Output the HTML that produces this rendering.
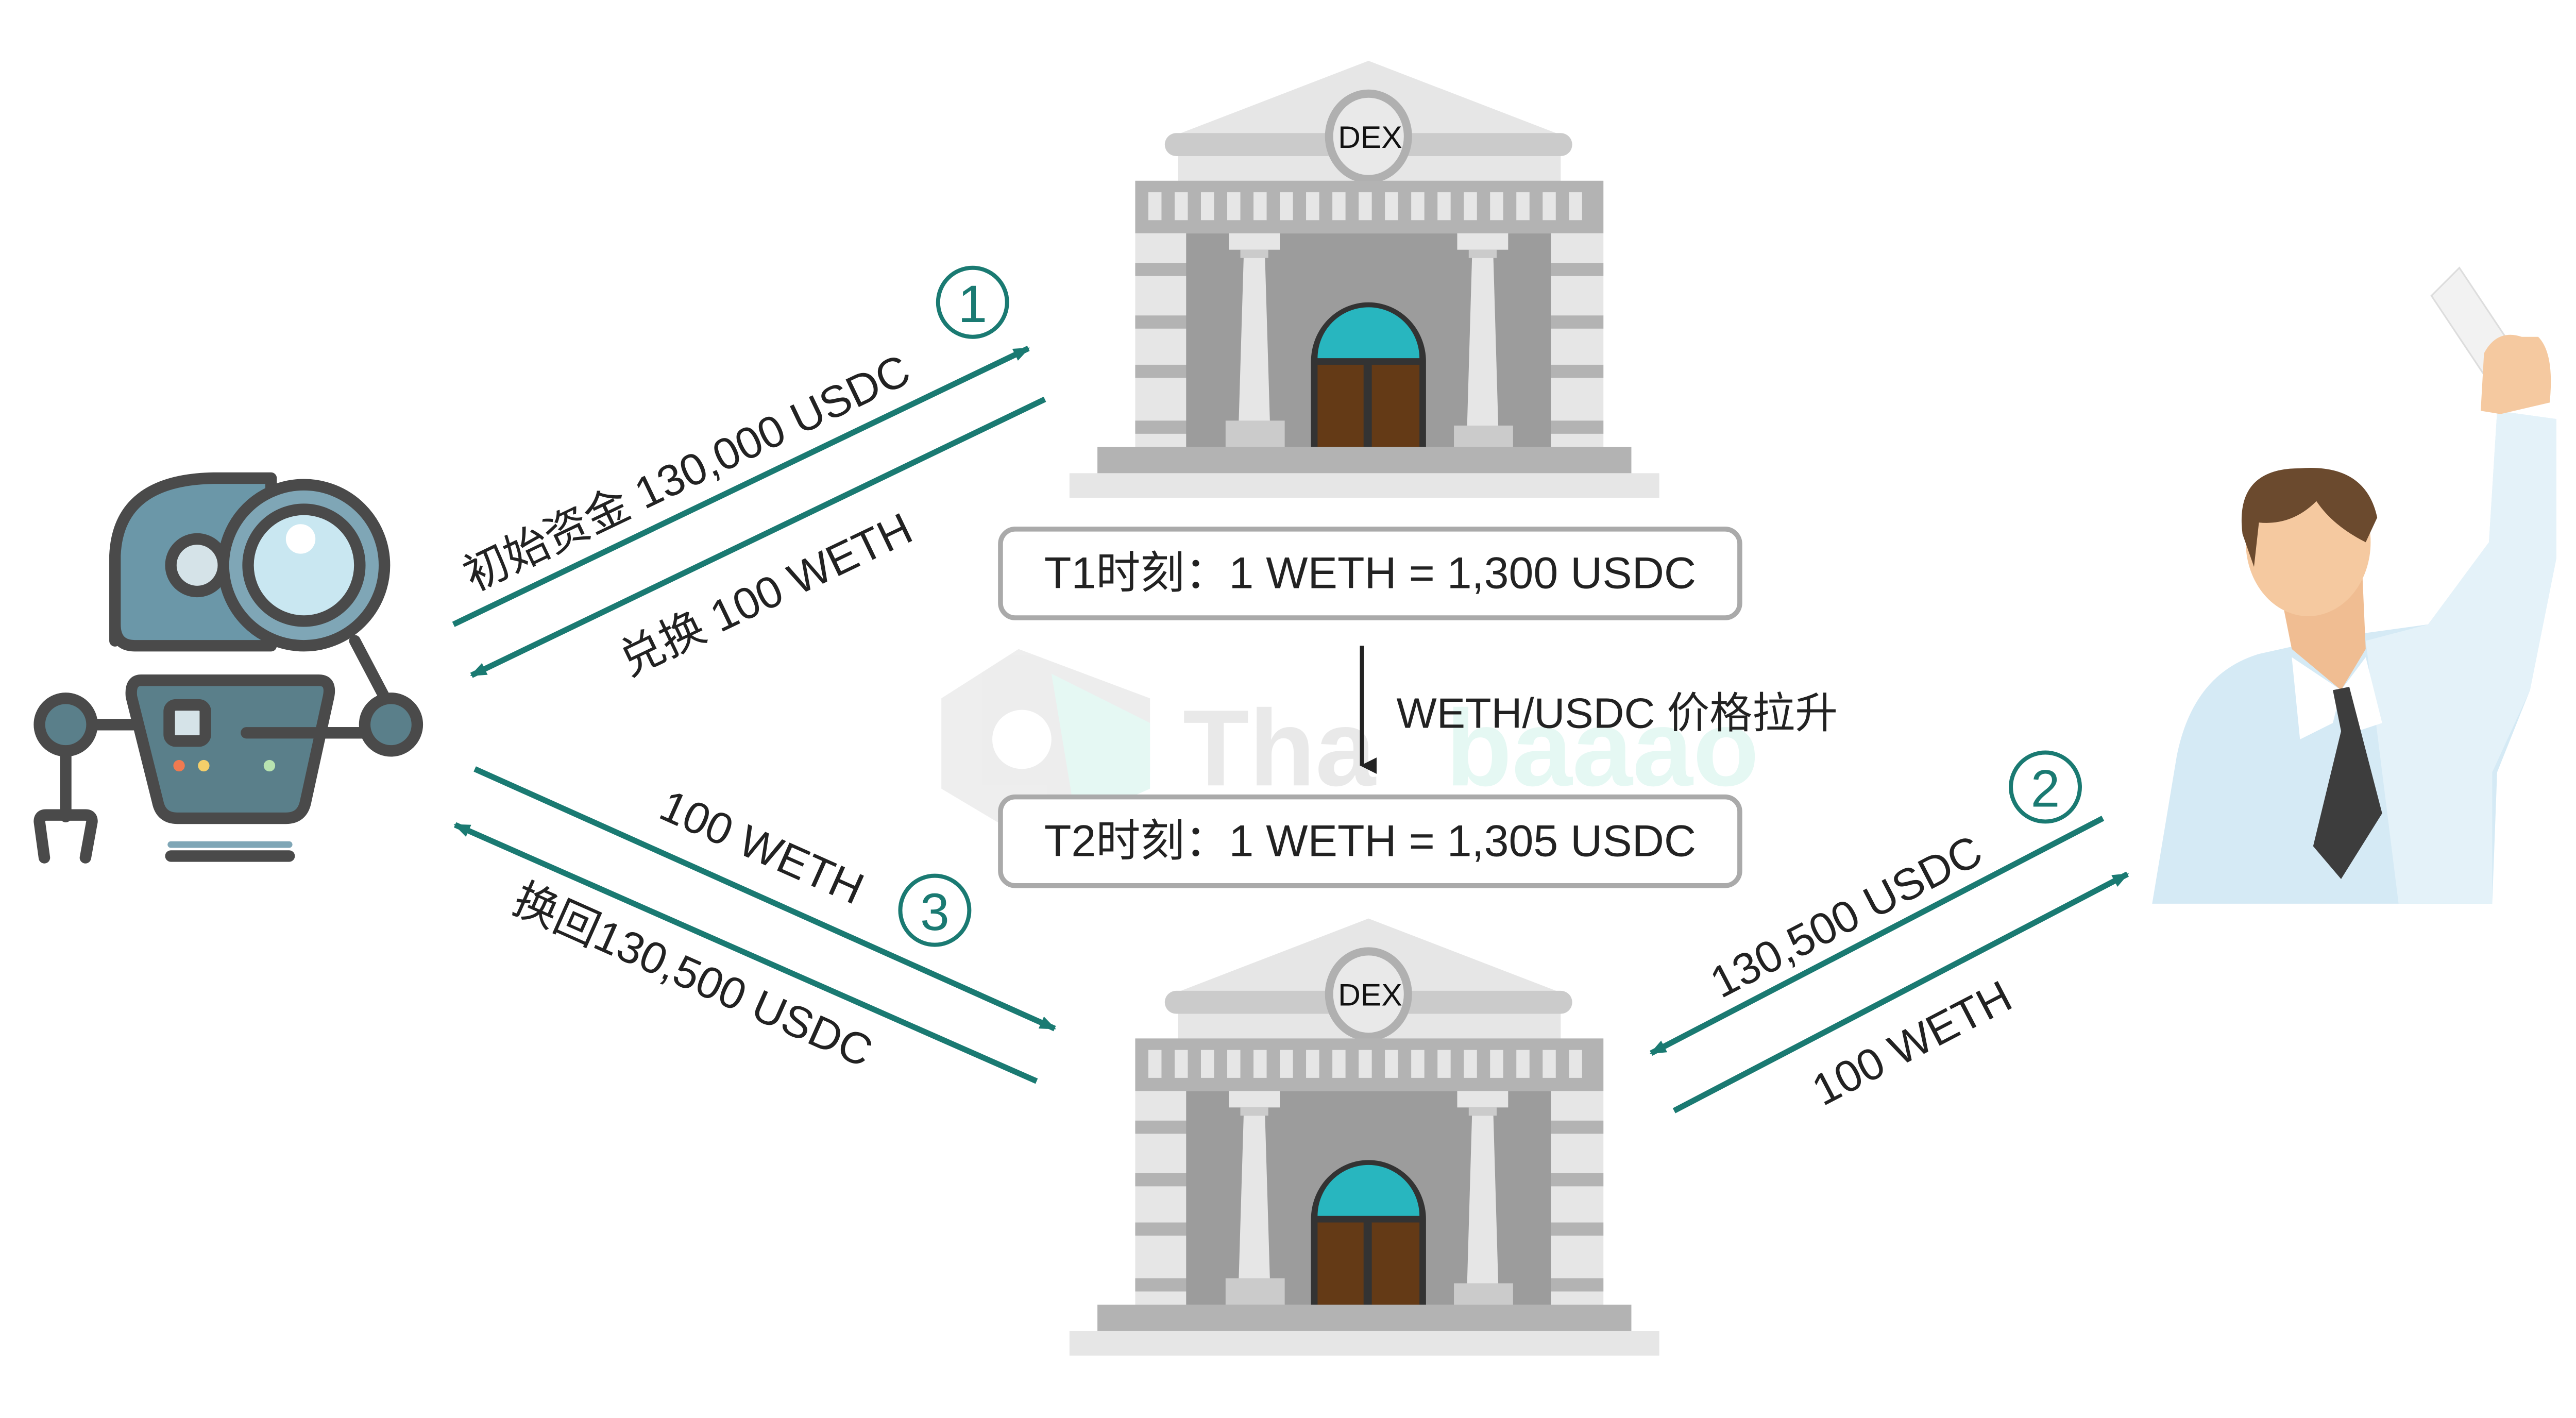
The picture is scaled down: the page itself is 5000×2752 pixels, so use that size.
<!DOCTYPE html>
<html><head><meta charset="utf-8"><style>
html,body{margin:0;padding:0;background:#fff;}
svg{display:block;}
text{font-family:"Liberation Sans","Noto Sans CJK SC",sans-serif;}
</style></head><body>
<svg width="5000" height="2752" viewBox="0 0 1568 863" preserveAspectRatio="none" xmlns="http://www.w3.org/2000/svg">
<defs>
<marker id="ah" markerWidth="10" markerHeight="8" refX="9" refY="4" orient="auto" markerUnits="userSpaceOnUse">
<path d="M0,0 L10,4 L0,8 Z" fill="#1a7a72"/></marker>
<marker id="ahk" markerWidth="10" markerHeight="10" refX="5" refY="9" orient="auto" markerUnits="userSpaceOnUse">
<path d="M0,0 L5,10 L10,0 Z" fill="#222"/></marker>
<g id="bank">
<polygon points="833,37 955,84 711,84" fill="#e6e6e6"/>
<rect x="709" y="81" width="248" height="14" rx="7" fill="#cbcbcb"/>
<rect x="717" y="95" width="233" height="16" fill="#e6e6e6"/>
<ellipse cx="833" cy="83" rx="24" ry="26" fill="#e9e9e9" stroke="#b0b0b0" stroke-width="5"/>
<text x="834" y="90" font-size="19" text-anchor="middle" fill="#111">DEX</text>
<rect x="691" y="110" width="285" height="32" fill="#b3b3b3"/>
<g fill="#e6e6e6">
<rect x="699" y="117" width="8" height="17"/><rect x="715" y="117" width="8" height="17"/><rect x="731" y="117" width="8" height="17"/><rect x="747" y="117" width="8" height="17"/><rect x="763" y="117" width="8" height="17"/><rect x="779" y="117" width="8" height="17"/><rect x="795" y="117" width="8" height="17"/><rect x="811" y="117" width="8" height="17"/><rect x="827" y="117" width="8" height="17"/><rect x="843" y="117" width="8" height="17"/><rect x="859" y="117" width="8" height="17"/><rect x="875" y="117" width="8" height="17"/><rect x="891" y="117" width="8" height="17"/><rect x="907" y="117" width="8" height="17"/><rect x="923" y="117" width="8" height="17"/><rect x="939" y="117" width="8" height="17"/><rect x="955" y="117" width="8" height="17"/></g>
<rect x="691" y="142" width="285" height="130" fill="#e6e6e6"/>
<g fill="#b3b3b3">
<rect x="691" y="160" width="285" height="8"/><rect x="691" y="192" width="285" height="8"/><rect x="691" y="222" width="285" height="8"/><rect x="691" y="256" width="285" height="8"/></g>
<rect x="722" y="142" width="222" height="130" fill="#9c9c9c"/>
<rect x="748" y="142" width="31" height="10" fill="#e6e6e6"/><rect x="755" y="152" width="17" height="5" fill="#cbcbcb"/>
<polygon points="757,157 770,157 773,257 754,257" fill="#e6e6e6"/>
<rect x="746" y="256" width="36" height="16" fill="#cbcbcb"/>
<rect x="887" y="142" width="31" height="10" fill="#e6e6e6"/><rect x="894" y="152" width="17" height="5" fill="#cbcbcb"/>
<polygon points="896,157 909,157 912,260 893,260" fill="#e6e6e6"/>
<rect x="885" y="259" width="36" height="14" fill="#cbcbcb"/>
<path d="M798,272 L798,220 A35,36 0 0 1 868,220 L868,272 Z" fill="#333"/>
<path d="M802,218 A31,31 0 0 1 864,218 Z" fill="#28b6bf"/>
<rect x="802" y="222" width="28" height="50" fill="#643a16"/>
<rect x="835" y="222" width="29" height="50" fill="#643a16"/>
<rect x="668" y="272" width="325" height="16" fill="#b3b3b3"/>
<rect x="651" y="288" width="359" height="15" fill="#e6e6e6"/>
</g>
</defs>

<g opacity="0.45">
<path d="M620,395 L573,425 L573,480 L620,508 L700,470 L700,425 Z" fill="#d9d9d9"/>
<circle cx="622" cy="450" r="18" fill="#fff"/>
<path d="M640,410 L700,440 L700,480 L655,500 Z" fill="#c6f0e6"/>
<text x="720" y="478" font-size="66" font-weight="bold" fill="#d0d0d0">Tha</text>
<text x="880" y="478" font-size="66" font-weight="bold" fill="#c6f0e6">baaao</text>
</g>

<use href="#bank"/>
<use href="#bank" transform="translate(0,522)"/>

<rect x="609" y="322" width="450" height="54" rx="9" fill="#fff" stroke="#aaa" stroke-width="3"/>
<text x="834" y="358" font-size="27" text-anchor="middle" fill="#222">T1时刻：1 WETH = 1,300 USDC</text>
<rect x="609" y="485" width="450" height="54" rx="9" fill="#fff" stroke="#aaa" stroke-width="3"/>
<text x="834" y="521" font-size="27" text-anchor="middle" fill="#222">T2时刻：1 WETH = 1,305 USDC</text>
<line x1="829" y1="393" x2="829" y2="466" stroke="#222" stroke-width="2.5" marker-end="url(#ahk)"/>
<text x="850" y="443" font-size="26" fill="#222">WETH/USDC 价格拉升</text>

<g stroke="#1a7a72" stroke-width="3.5" fill="none">
<line x1="276" y1="380" x2="626" y2="212" marker-end="url(#ah)"/>
<line x1="636" y1="243" x2="287" y2="411" marker-end="url(#ah)"/>
<line x1="289" y1="468" x2="642" y2="626" marker-end="url(#ah)"/>
<line x1="631" y1="658" x2="277" y2="502" marker-end="url(#ah)"/>
<line x1="1280" y1="498" x2="1005" y2="641" marker-end="url(#ah)"/>
<line x1="1019" y1="676" x2="1295" y2="532" marker-end="url(#ah)"/>
<circle cx="592" cy="184" r="21" stroke-width="2.5"/>
<circle cx="569" cy="554" r="21" stroke-width="2.5"/>
<circle cx="1245" cy="479" r="21" stroke-width="2.5"/>
</g>
<g fill="#1a7a72" font-size="32" text-anchor="middle">
<text x="592" y="196">1</text><text x="569" y="566">3</text><text x="1245" y="491">2</text>
</g>
<g font-size="27" fill="#222" text-anchor="middle">
<text transform="translate(422,296) rotate(-25.6)">初始资金 130,000 USDC</text>
<text transform="translate(470,370) rotate(-25.6)">兑换 100 WETH</text>
<text transform="translate(460,524) rotate(24)">100 WETH</text>
<text transform="translate(418,602) rotate(24)">换回130,500 USDC</text>
<text transform="translate(1128,566) rotate(-27.5)">130,500 USDC</text>
<text transform="translate(1168,643) rotate(-27.5)">100 WETH</text>
</g>

<g stroke="#4a4a4a" stroke-width="7" stroke-linecap="round" stroke-linejoin="round">
<line x1="40" y1="441" x2="100" y2="441"/>
<line x1="148" y1="446" x2="238" y2="446"/>
<line x1="40" y1="441" x2="40" y2="497"/>
<path d="M27,522 L24,500 Q24,496 28,496 L52,496 Q56,496 56,500 L52,522" fill="none"/>
<path d="M70,390 L70,338 Q72,292 130,291 L165,291 L165,393 L82,393 Q70,393 70,380 Z" fill="#6b97a8"/>
<circle cx="120" cy="344" r="16" fill="#d5e3e8"/>
<line x1="216" y1="390" x2="236" y2="428"/>
<path d="M86,414 L194,414 Q202,414 200,424 L186,488 Q184,498 174,498 L108,498 Q98,498 96,488 L80,424 Q79,414 86,414 Z" fill="#5a7f8a"/>
<circle cx="40" cy="441" r="16" fill="#5a7f8a"/>
<circle cx="238" cy="441" r="16" fill="#5a7f8a"/>
<line x1="150" y1="446" x2="222" y2="446"/>
<rect x="103" y="429" width="22" height="22" rx="4" fill="#d5e3e8"/>
<circle cx="185" cy="344" r="49" fill="#7fa6b6"/>
<circle cx="185" cy="344" r="34" fill="#c9e7f1"/>
<line x1="104" y1="521" x2="176" y2="521"/>
</g>
<circle cx="183" cy="328" r="9" fill="#fff"/>
<line x1="104" y1="514" x2="176" y2="514" stroke="#7fa6b6" stroke-width="4" stroke-linecap="round"/>
<circle cx="109" cy="466" r="3.5" fill="#f07a50"/>
<circle cx="124" cy="466" r="3.5" fill="#f5cf6a"/>
<circle cx="164" cy="466" r="3.5" fill="#b8e3b0"/>

<g>
<polygon points="1480,180 1497,163 1535,220 1518,237" fill="#f2f2f2" stroke="#ddd" stroke-width="1"/>
<path d="M1310,550 L1325,460 Q1335,410 1375,398 L1420,388 L1478,380 L1515,330 L1520,250 L1556,255 L1556,340 L1540,420 L1520,470 L1517,550 Z" fill="#d5eaf5"/>
<path d="M1440,390 L1478,380 L1515,330 L1520,250 L1556,255 L1556,340 L1540,420 L1517,470 L1517,550 L1460,550 Z" fill="#e4f2f9"/>
<path d="M1510,250 L1512,215 Q1520,200 1535,205 L1545,205 Q1555,215 1552,245 L1522,252 Z" fill="#f5c9a0"/>
<path d="M1385,345 L1395,395 L1425,420 L1440,395 L1438,350 Z" fill="#f0bd92"/>
<ellipse cx="1405" cy="330" rx="38" ry="45" fill="#f5c9a0"/>
<path d="M1365,325 Q1360,285 1400,285 Q1440,282 1447,315 L1440,330 Q1420,320 1410,305 Q1395,320 1375,318 L1372,345 Z" fill="#6b4a2e"/>
<path d="M1395,400 L1425,420 L1420,440 L1400,450 Z" fill="#fff"/>
<path d="M1425,420 L1440,400 L1450,440 L1435,445 Z" fill="#fff"/>
<path d="M1420,420 L1430,418 L1450,495 L1425,535 L1408,515 L1425,445 Z" fill="#3d3d3d"/>
</g>
</svg>
</body></html>
